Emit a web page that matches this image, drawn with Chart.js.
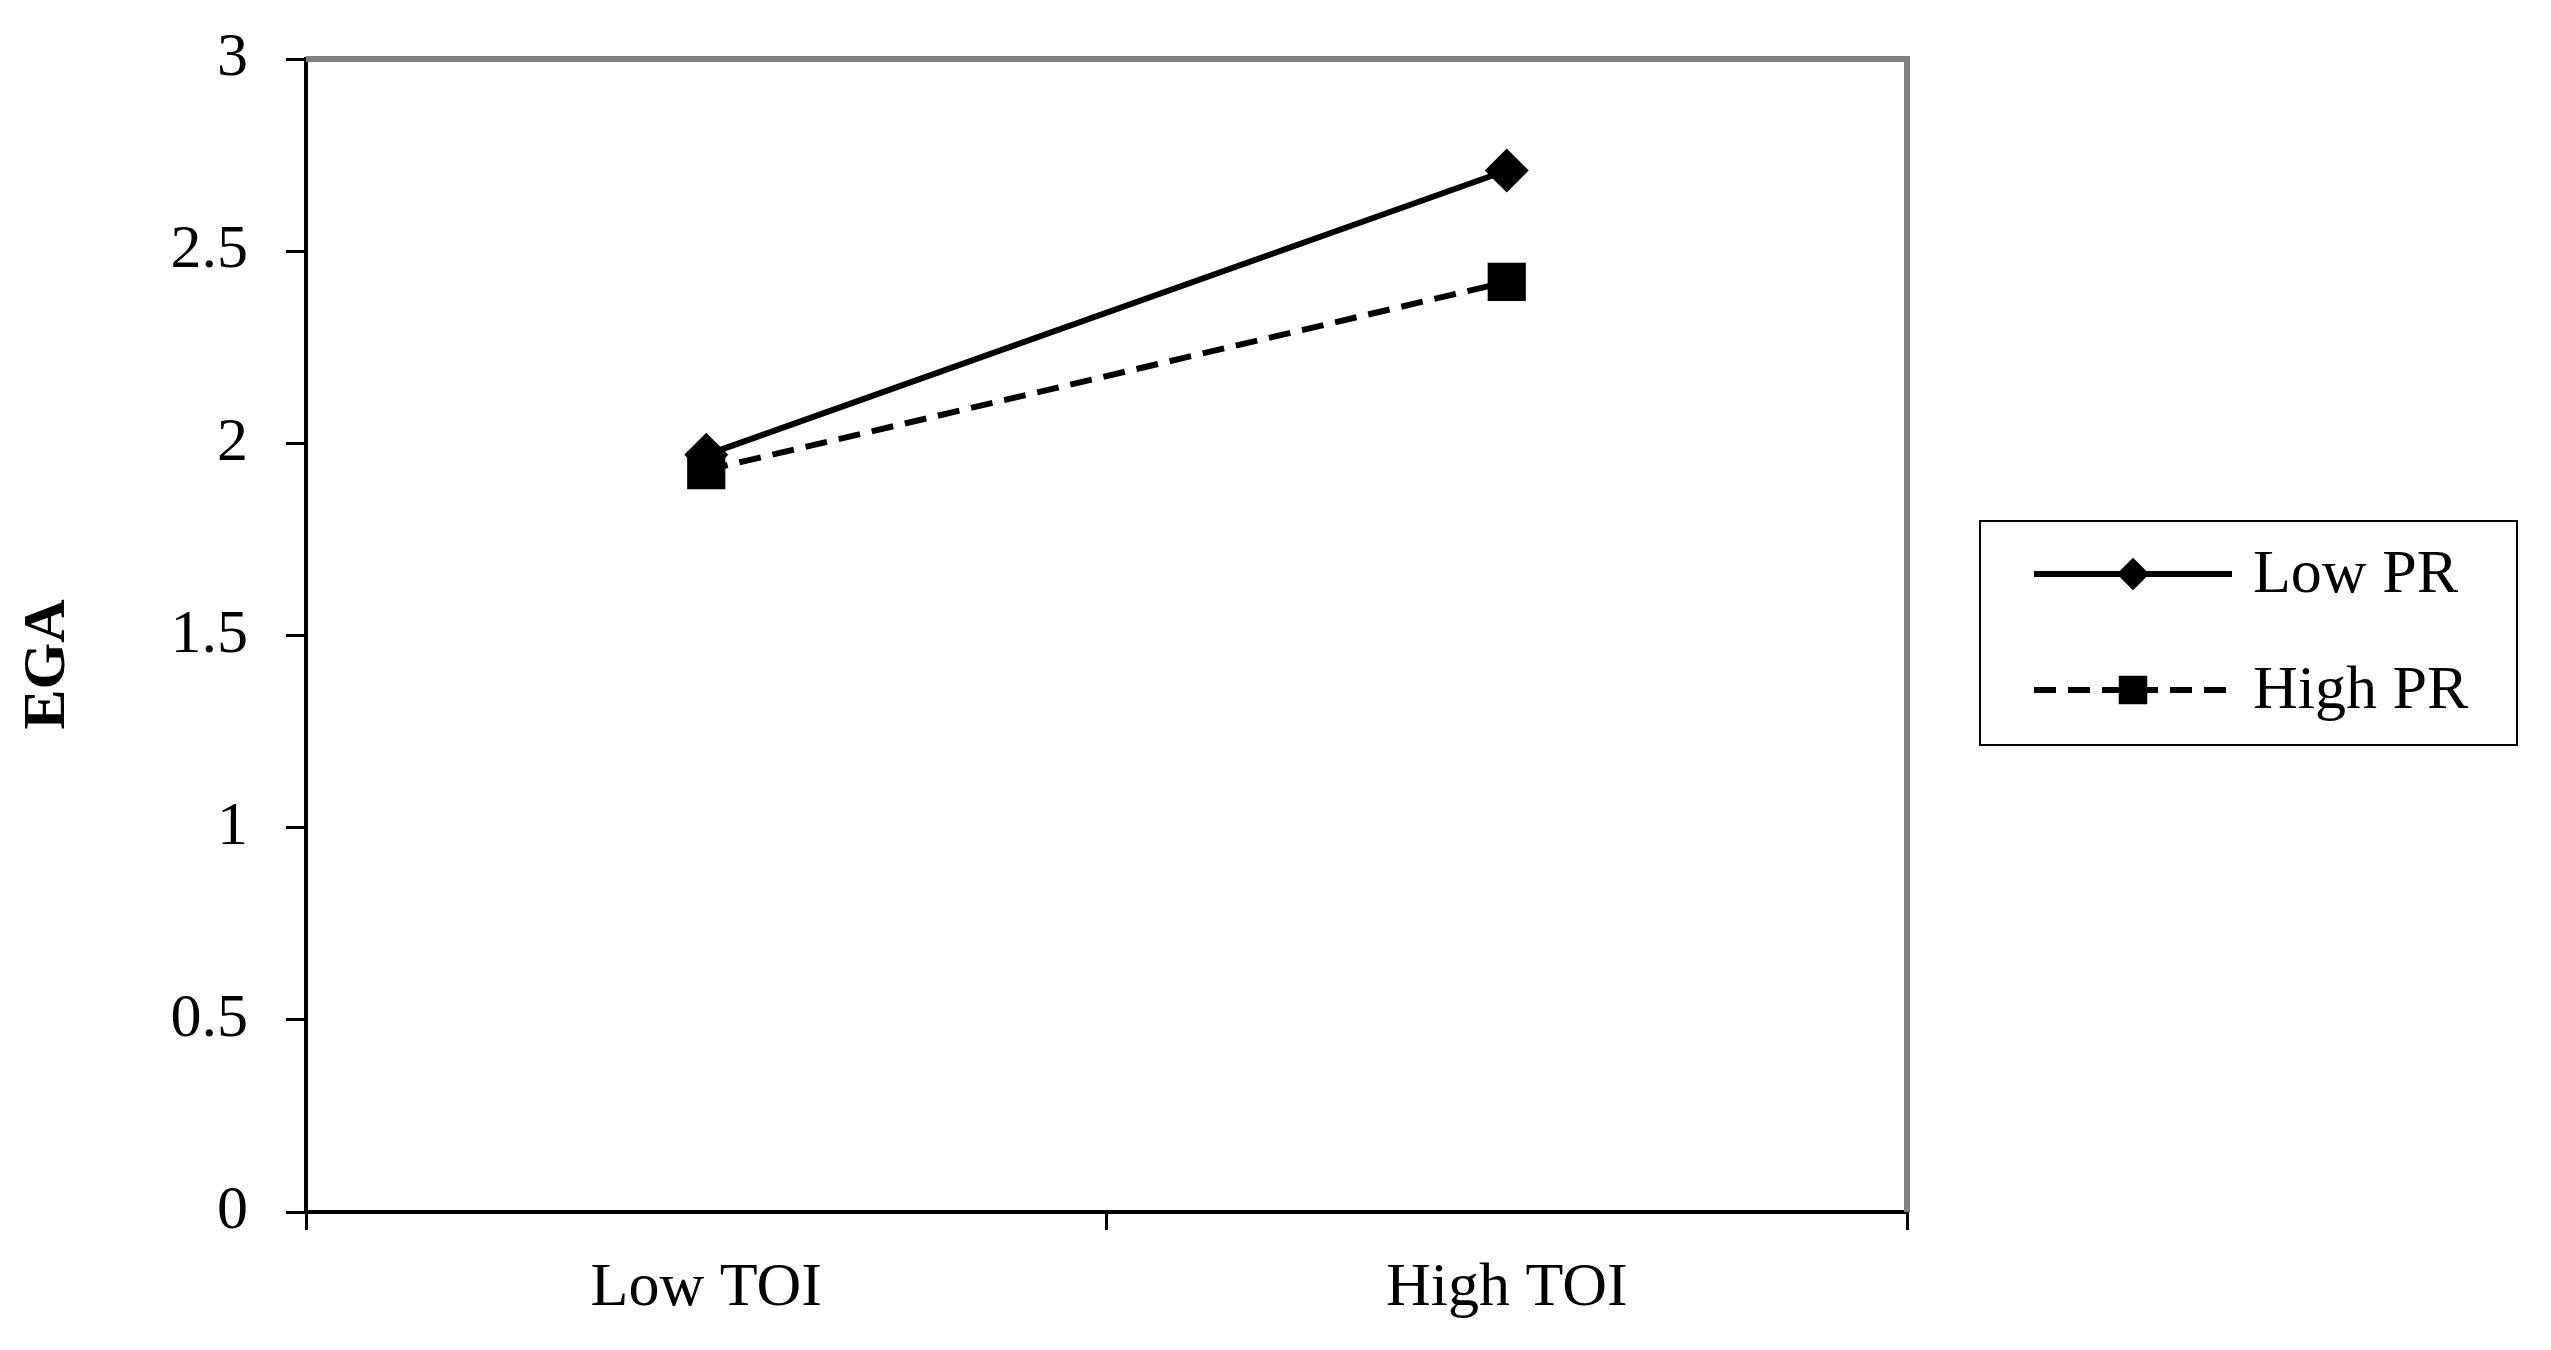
<!DOCTYPE html>
<html>
<head>
<meta charset="utf-8">
<script src="https://cdn.jsdelivr.net/npm/chart.js@4"></script>
<style>
  html, body { margin: 0; padding: 0; background: #fff; }
  #wrap { width: 2551px; height: 1350px; }
</style>
</head>
<body>
<div id="wrap"><canvas id="chart"></canvas></div>
<script>
// === DATA
const categories = ['Low TOI', 'High TOI'];
const lowPR = [1.97, 2.71];
const highPR = [1.93, 2.42];
const yTicks = [0, 0.5, 1, 1.5, 2, 2.5, 3];
const seriesNames = ['Low PR', 'High PR'];
const yTitle = 'EGA';

const FONT = '"Liberation Serif", "Times New Roman", serif';

// ====== plot frame (grey top/right like Excel) + y title
const framePlugin = {
  id: 'frame',
  beforeDatasetsDraw(chart) {
    const { ctx, chartArea: a } = chart;
    ctx.save();
    ctx.strokeStyle = '#808080';
    ctx.lineWidth = 6;
    ctx.beginPath();
    ctx.moveTo(a.left, a.top);
    ctx.lineTo(a.right, a.top);
    ctx.lineTo(a.right, a.bottom);
    ctx.stroke();

    // axis title sits a bit below the plot centre in the original
    ctx.translate(48, (a.top + a.bottom) / 2 + 29);
    ctx.rotate(-Math.PI / 2);
    ctx.fillStyle = '#000';
    ctx.font = 'bold 60px ' + FONT;
    ctx.textAlign = 'center';
    ctx.textBaseline = 'middle';
    ctx.fillText(yTitle, 0, 0);
    ctx.restore();
  }
};

// ====== boxed legend at right
const boxLegend = {
  id: 'boxLegend',
  afterDraw(chart) {
    const { ctx } = chart;
    const box = { x: 1980, y: 521, w: 537, h: 224 };
    ctx.save();
    ctx.strokeStyle = '#000';
    ctx.lineWidth = 2;
    ctx.strokeRect(box.x, box.y, box.w, box.h);
    const rows = [574, 690];
    chart.data.datasets.forEach((ds, i) => {
      const y = rows[i];
      const x0 = 2034, x1 = 2232;
      ctx.strokeStyle = '#000';
      ctx.lineWidth = 6;
      ctx.setLineDash(ds.borderDash || []);
      ctx.beginPath();
      ctx.moveTo(x0, y);
      ctx.lineTo(x1, y);
      ctx.stroke();
      ctx.setLineDash([]);
      Chart.helpers.drawPoint(ctx, {
        pointStyle: ds.pointStyle,
        radius: ds.legendRadius,
        borderWidth: 0
      }, (x0 + x1) / 2, y);
      ctx.fillStyle = '#000';
      ctx.fill();
      ctx.font = '62px ' + FONT;
      ctx.textBaseline = 'middle';
      ctx.textAlign = 'left';
      ctx.fillText(seriesNames[i], 2253, y + 2);
    });
    ctx.restore();
  }
};

new Chart(document.getElementById('chart'), {
  type: 'line',
  data: {
    labels: categories,
    datasets: [
      {
        label: seriesNames[0],
        data: lowPR,
        borderColor: '#000',
        backgroundColor: '#000',
        borderWidth: 6,
        pointStyle: 'rectRot',
        pointRadius: 22,
        legendRadius: 16,
        pointBorderWidth: 0
      },
      {
        label: seriesNames[1],
        data: highPR,
        borderColor: '#000',
        backgroundColor: '#000',
        borderWidth: 6,
        borderDash: [22, 12],
        pointStyle: 'rect',
        pointRadius: 27,
        legendRadius: 20,
        pointBorderWidth: 0
      }
    ]
  },
  options: {
    responsive: true,
    maintainAspectRatio: false,
    animation: false,
    layout: { padding: { left: 0, top: 59, right: 644, bottom: 0 } },
    plugins: { legend: { display: false }, tooltip: { enabled: false } },
    scales: {
      x: {
        offset: true,
        afterFit: s => { s.height = 138; s.paddingLeft = 0; s.paddingRight = 0; },
        grid: {
          offset: true,
          drawOnChartArea: false,
          drawTicks: true,
          tickLength: 18,
          color: '#000',
          lineWidth: 3
        },
        border: { display: true, color: '#000', width: 4 },
        ticks: { color: '#000', font: { family: FONT, size: 62 }, padding: 22 }
      },
      y: {
        min: 0,
        max: 3,
        afterFit: s => { s.width = 306; s.paddingTop = 0; s.paddingBottom = 0; },
        afterBuildTicks: s => { s.ticks = yTicks.map(v => ({ value: v })); },
        grid: {
          drawOnChartArea: false,
          drawTicks: true,
          tickLength: 20,
          color: '#000',
          lineWidth: 3
        },
        border: { display: true, color: '#000', width: 4 },
        ticks: {
          color: '#000',
          font: { family: FONT, size: 62 },
          padding: 38,
          callback: v => String(v)
        }
      }
    }
  },
  plugins: [framePlugin, boxLegend]
});
</script>
</body>
</html>
